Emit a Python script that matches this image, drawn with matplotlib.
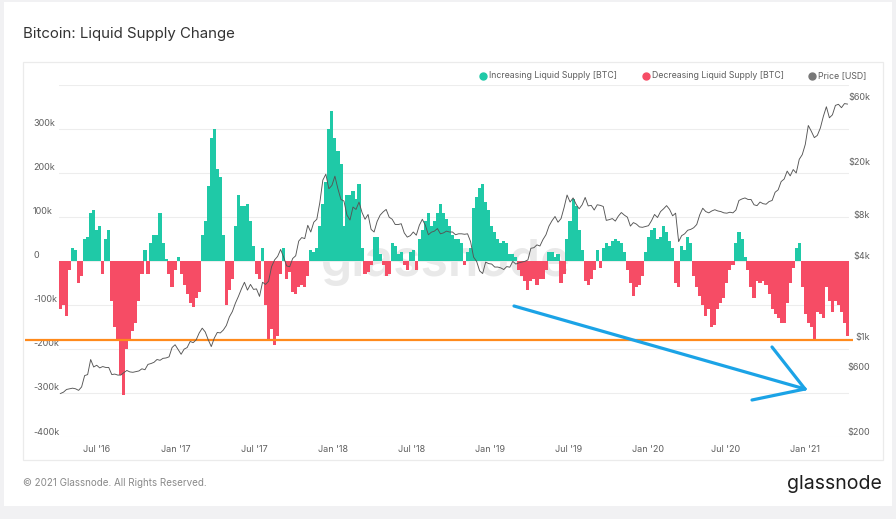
import matplotlib
matplotlib.use('Agg')
import matplotlib.pyplot as plt
import matplotlib.transforms as mtransforms
from matplotlib.lines import Line2D
from matplotlib.patches import Rectangle
import numpy as np
import pandas as pd

plt.rcParams['font.family'] = ['Inter', 'DejaVu Sans']

# ---------------- data ----------------
START_DATE = '2016-04-08'   # weekly samples

# Liquid supply change, thousands of BTC (weekly readings)
supply_change_k = [
    -110, -100, -125, -20, 30, 25, -50, -35, 50, 55,
    110, 115, 70, 80, -30, 50, 70, -90, -150, -180,
    -260, -305, -200, -180, -160, -140, -90, -30, 25, -30,
    40, 60, 60, 110, 40, 5, -30, -60, -20, 10,
    -30, -55, -75, -95, -105, -85, -70, 60, 90, 170,
    280, 300, 210, 190, 60, -100, -65, -40, 80, 150,
    125, 125, 130, 90, 35, -30, -40, 30, -100, -180,
    -155, -190, -170, -30, 30, -40, -25, -70, -75, -60,
    -55, -60, -35, 25, 20, 30, 80, 130, 180, 300,
    340, 280, 250, 220, 80, 150, 150, 160, 140, 175,
    30, -30, -25, -10, 55, 55, 15, -10, -35, -30,
    40, 35, 15, 20, -10, -20, 20, 25, -20, 50,
    70, 90, 110, 80, 90, 110, 130, 110, 95, 80,
    60, 50, 50, 40, -10, 20, 30, 120, 145, 165,
    175, 135, 115, 80, 65, 50, 40, 45, 40, 15,
    15, 10, -20, -35, -45, -65, -45, -40, -55, -40,
    -40, -20, 20, 20, 10, 15, -50, -30, 50, 90,
    140, 125, 70, 25, -45, -55, -40, -20, 25, -15,
    30, 40, 35, 45, 50, 45, 40, 20, -20, -50,
    -80, -60, -55, -35, 20, 55, 70, 75, 50, 55,
    80, 65, 45, 30, -50, -60, 35, 25, 55, 40,
    -35, -60, -80, -100, -125, -110, -150, -145, -110, -95,
    -85, -50, -20, -10, 40, 65, 50, 10, -20, -60,
    -85, -45, -50, -45, -55, -75, -110, -120, -130, -140,
    -140, -95, -50, -15, 30, 40, -60, -120, -140, -150,
    -180, -115, -120, -130, -60, -90, -115, -90, -100, -115,
    -140, -170,
]

# BTC price, USD (weekly readings)
price_usd = [
    # 2016
    420, 430, 450, 455, 460, 455, 443, 470, 570, 580,
    750, 660, 680, 650, 665, 655, 655, 580, 585, 575,
    575, 600, 622, 607, 603, 610, 617, 640, 630, 690,
    700, 715, 750, 740, 765, 770, 785, 920, 965,
    # 2017
    890, 820, 895, 920, 1020, 1000, 1050, 1180, 1280, 1200,
    1050, 935, 1080, 1190, 1180, 1240, 1340, 1550, 1700, 1960,
    2200, 2500, 2800, 2450, 2700, 2480, 2500, 2200, 2800, 2700,
    2850, 3650, 4100, 4350, 4900, 4300, 3700, 3650, 4200, 4400,
    5650, 6000, 5900, 7400, 6600, 7800, 8200, 10900, 16000, 17700,
    13800, 14600,
    # 2018
    17100, 13800, 11500, 11200, 8800, 8100, 10100, 9700, 11000, 9200,
    8200, 8900, 6900, 6600, 7900, 8800, 9300, 9700, 8500, 8200,
    7500, 7500, 7600, 6500, 6050, 6200, 6600, 6250, 7400, 8200,
    7400, 6300, 6580, 6700, 7000, 6400, 6500, 6700, 6600, 6600,
    6300, 6400, 6400, 6350, 6400, 5600, 4300, 4000, 3400, 3250,
    3950, 3850,
    # 2019
    3820, 3630, 3630, 3580, 3480, 3660, 3620, 4000, 3820, 3900,
    3950, 4000, 4100, 5000, 5050, 5300, 5200, 5800, 6300, 7300,
    8000, 8600, 7800, 8300, 10000, 12400, 11000, 11800, 10600, 9800,
    10500, 11900, 10300, 10400, 9600, 10500, 10400, 10200, 8050, 8150,
    8300, 7950, 8650, 9200, 8800, 8500, 7300, 7750, 7550, 7200,
    7150, 7250,
    # 2020
    7350, 8000, 8900, 8450, 9350, 9800, 10350, 9700, 8700, 9100,
    5600, 6200, 6400, 6800, 6900, 7100, 7500, 8850, 9900, 9350,
    9150, 9450, 9650, 9450, 9350, 9150, 9100, 9250, 9150, 9600,
    11300, 11600, 11800, 11500, 11500, 10500, 10350, 11000, 10700, 10600,
    11100, 11300, 13000, 13550, 15600, 16300, 18650, 17200, 19150, 18050,
    22800, 24700,
    # 2021
    29400, 40600, 36800, 33000, 34300, 38900, 47500, 55900, 46300, 48700,
    57200, 58300, 55000, 59000, 58500,
]

left_ticks = [-400000, -300000, -200000, -100000, 0, 100000, 200000, 300000]
left_labels = ['-400k', '-300k', '-200k', '-100k', '0', '100k', '200k', '300k']
right_ticks = [200, 600, 1000, 4000, 8000, 20000, 60000]
right_labels = ['$200', '$600', '$1k', '$4k', '$8k', '$20k', '$60k']
x_tick_dates = ['2016-07-01', '2017-01-01', '2017-07-01', '2018-01-01', '2018-07-01',
                '2019-01-01', '2019-07-01', '2020-01-01', '2020-07-01', '2021-01-01']
x_tick_labels = ["Jul '16", "Jan '17", "Jul '17", "Jan '18", "Jul '18",
                 "Jan '19", "Jul '19", "Jan '20", "Jul '20", "Jan '21"]
threshold_level = -180000   # hand-drawn orange line

# ---------------- styling ----------------
GREEN = '#1fc9a7'
RED = '#f64c65'
PRICE_C = '#555555'
TXT = '#5f5f5f'

W, H = 896, 519
fig = plt.figure(figsize=(W / 100, H / 100), dpi=100)
fig.patch.set_facecolor('#f1f1f3')


def fx(px):
    return px / W


def fy(py):
    return 1 - py / H


fig.add_artist(Rectangle((fx(4), fy(506)), fx(892) - fx(4), fy(2) - fy(506),
                         transform=fig.transFigure, facecolor='white',
                         edgecolor='none', zorder=-3))
fig.add_artist(Rectangle((fx(23), fy(460)), fx(883) - fx(23), fy(62) - fy(460),
                         transform=fig.transFigure, facecolor='white',
                         edgecolor='#ebebeb', lw=0.9, zorder=-2))

ax = fig.add_axes([fx(59), fy(437), fx(849) - fx(59), fy(85) - fy(437)])
ax.set_facecolor('none')

dates = pd.date_range(START_DATE, periods=len(supply_change_k), freq='7D')
vals = np.array(supply_change_k, dtype=float) * 1000
colors = [GREEN if v >= 0 else RED for v in vals]
ax.bar(dates, vals, width=7.4, color=colors, linewidth=0, zorder=2)

ax.set_xlim(dates[0] - pd.Timedelta(days=3.5), dates[-1] + pd.Timedelta(days=3.5))
ax.set_ylim(-400000, 400000)
ax.set_yticks(left_ticks + [400000])
ax.set_yticklabels([])
ax.yaxis.grid(True, color='#ededed', lw=0.8)
ax.set_axisbelow(True)
ax.tick_params(axis='y', length=0)
for s in ax.spines.values():
    s.set_visible(False)

ax.set_xticks(pd.to_datetime(x_tick_dates))
ax.set_xticklabels(x_tick_labels, fontsize=6.5, color=TXT)
ax.tick_params(axis='x', length=0, pad=5.5)

off = mtransforms.ScaledTranslation(0, 5 / 100, fig.dpi_scale_trans)
for v, lab in zip(left_ticks, left_labels):
    ax.text((33 - 59) / 790, v, lab, transform=ax.get_yaxis_transform() + off,
            ha='left', va='center', fontsize=6.5, color=TXT)

# watermark
ax.text(0.49, 0.497, 'glassnode', transform=ax.transAxes, ha='center', va='center',
        fontsize=36, fontweight='semibold', color='#e9e9e9', zorder=1)

# price axis
ax2 = ax.twinx()
ax2.set_facecolor('none')
ax2.set_yscale('log')
ax2.set_ylim(200, 81000)
ax2.plot(dates[:len(price_usd)], price_usd, color=PRICE_C, lw=0.65, zorder=3)
ax2.set_yticks([])
ax2.minorticks_off()
ax2.tick_params(axis='y', length=0, labelright=False)
for s in ax2.spines.values():
    s.set_visible(False)
for v, lab in zip(right_ticks, right_labels):
    ax2.text((870 - 59) / 790, v, lab, transform=ax2.get_yaxis_transform() + off,
             ha='right', va='center', fontsize=6.5, color=TXT)

# orange level line (annotation)
ax.plot([(25 - 59) / 790, (853 - 59) / 790], [threshold_level, threshold_level],
        transform=ax.get_yaxis_transform(), color='#ff8a1c', lw=1.6,
        clip_on=False, zorder=4, solid_capstyle='butt')

# blue arrow (annotation)
BLUE = '#1ba3e6'
for (x0, y0), (x1, y1) in [((514, 306), (805, 389)),
                           ((772, 347), (805, 389)),
                           ((752, 400), (805, 389))]:
    fig.add_artist(Line2D([fx(x0), fx(x1)], [fy(y0), fy(y1)], transform=fig.transFigure,
                          color=BLUE, lw=2.3, solid_capstyle='round', zorder=5))

# title
fig.text(fx(23), fy(34), 'Bitcoin: Liquid Supply Change', fontsize=10.8,
         color='#333333', ha='left', va='center')

# legend
leg = [(483, GREEN, 'Increasing Liquid Supply [BTC]'),
       (646, RED, 'Decreasing Liquid Supply [BTC]'),
       (811.5, '#777777', 'Price [USD]')]
for px, c, lab in leg:
    fig.add_artist(Line2D([fx(px)], [fy(75.5)], transform=fig.transFigure, marker='o',
                          markersize=5, color=c, linestyle='none'))
    fig.text(fx(px + 6), fy(75.5), lab, fontsize=6.3, color=TXT, ha='left', va='center')

# footer
fig.text(fx(23), fy(483), '\u00a9 2021 Glassnode. All Rights Reserved.', fontsize=7.1,
         color='#8a8a8a', ha='left', va='center')
fig.text(fx(882), fy(484), 'glassnode', fontsize=14, color='#1e1e1e',
         ha='right', va='center')

fig.savefig('out.png', dpi=100, facecolor=fig.get_facecolor())
